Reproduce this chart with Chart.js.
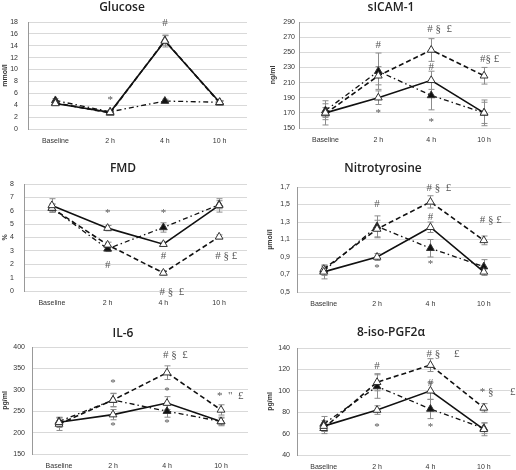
<!DOCTYPE html>
<html>
<head>
<meta charset="utf-8">
<script src="https://cdn.jsdelivr.net/npm/chart.js@4/dist/chart.umd.min.js"></script>
<style>
html, body { margin: 0; padding: 0; background: #fff; }
#wrap { position: relative; width: 516px; height: 470px; overflow: hidden; }
.panel { position: absolute; }
</style>
</head>
<body>
<div id="wrap"></div>
<script>
const categories = ['Baseline', '2 h', '4 h', '10 h'];

// Glucose (mmol/l)
const glucoseSolid      = [4.3, 2.8, 14.8, 4.5];
const glucoseSolidErr   = [0.3, 0.2, 1.0, 0.3];
const glucoseDashed     = [4.4, 2.7, 14.9, 4.4];
const glucoseDashedErr  = [0.3, 0.2, 0.8, 0.3];
const glucoseDashDot    = [4.8, 2.9, 4.7, 4.5];
const glucoseDashDotErr = [0.3, 0.2, 0.3, 0.2];
const glucoseMarks = [[1, 4.9, '*'], [2, 17.8, '#']];

// sICAM-1 (ng/ml)
const icamSolid      = [170, 190, 213, 170];
const icamSolidErr   = [16, 9, 12, 17];
const icamDashed     = [169, 219, 253, 219];
const icamDashedErr  = [8, 12, 15, 11];
const icamDashDot    = [173, 225, 193, 170];
const icamDashDotErr = [9, 24, 19, 14];
const icamMarks = [[1, 259, '#'], [2, 281, '# §  £'], [3, 241, '#§ £'], [2, 231, '#'], [1, 170, '*'], [2, 158, '*']];

// FMD (%)
const fmdSolid      = [6.4, 4.7, 3.5, 6.4];
const fmdSolidErr   = [0.5, 0.2, 0.15, 0.5];
const fmdDashed     = [6.2, 3.45, 1.35, 4.05];
const fmdDashedErr  = [0.3, 0.2, 0.15, 0.15];
const fmdDashDot    = [6.2, 3.15, 4.75, 6.45];
const fmdDashDotErr = [0.3, 0.2, 0.35, 0.3];
const fmdMarks = [[1, 5.8, '*'], [2, 5.8, '*'], [1, 1.9, '#'], [2, 2.6, '#'], [3, 2.6, '# § £'], [2, -0.1, '# §  £']];

// Nitrotyrosine (µmol/l)
const nitroSolid      = [0.73, 0.9, 1.24, 0.73];
const nitroSolidErr   = [0.08, 0.04, 0.06, 0.04];
const nitroDashed     = [0.76, 1.22, 1.53, 1.09];
const nitroDashedErr  = [0.04, 0.1, 0.07, 0.05];
const nitroDashDot    = [0.74, 1.25, 1.0, 0.79];
const nitroDashDotErr = [0.05, 0.12, 0.1, 0.08];
const nitroMarks = [[1, 1.51, '#'], [2, 1.69, '# §  £'], [2, 1.36, '#'], [3, 1.32, '# § £'], [1, 0.77, '*'], [2, 0.82, '*']];

// IL-6 (pg/ml)
const il6Solid      = [224, 242, 269, 226];
const il6SolidErr   = [12, 12, 15, 10];
const il6Dashed     = [220, 276, 340, 253];
const il6DashedErr  = [15, 15, 16, 12];
const il6DashDot    = [226, 276, 250, 226];
const il6DashDotErr = [8, 16, 14, 8];
const il6Marks = [[1, 315, '*'], [1, 214, '*'], [2, 380, '# §  £'], [2, 297, '*'], [2, 222, '*'], [3, 285, '*  "  £']];

// 8-iso-PGF2α (pg/ml)
const isoSolid      = [67, 82, 100, 64];
const isoSolidErr   = [5, 4, 8, 6];
const isoDashed     = [65, 108, 124, 84];
const isoDashedErr  = [5, 8, 6, 4];
const isoDashDot    = [69, 104, 83, 65];
const isoDashDotErr = [7, 11, 9, 5];
const isoMarks = [[1, 123, '#'], [2, 134, '# §     £'], [2, 107, '#'], [3, 99, '* §      £'], [1, 66, '*'], [2, 66, '*']];

const panels = [
  { title: 'Glucose', unit: 'mmol/l', min: 0, max: 18, step: 2,
    series: [glucoseSolid, glucoseDashed, glucoseDashDot],
    errors: [glucoseSolidErr, glucoseDashedErr, glucoseDashDotErr], marks: glucoseMarks,
    box: [0, 0, 258, 150], area: [28, 22, 247, 129], titleAt: [122, 8], unitX: 5, tickPad: 10 },
  { title: 'sICAM-1', unit: 'ng/ml', min: 150, max: 290, step: 20,
    series: [icamSolid, icamDashed, icamDashDot],
    errors: [icamSolidErr, icamDashedErr, icamDashDotErr], marks: icamMarks,
    box: [258, 0, 258, 150], area: [299, 22, 515, 128], titleAt: [391, 8], unitX: 273, tickPad: 4 },
  { title: 'FMD', unit: '%', min: 0, max: 8, step: 1,
    series: [fmdSolid, fmdDashed, fmdDashDot],
    errors: [fmdSolidErr, fmdDashedErr, fmdDashDotErr], marks: fmdMarks,
    box: [0, 150, 258, 162], area: [24, 184, 247, 291], titleAt: [123, 169], unitX: 5, tickPad: 10 },
  { title: 'Nitrotyrosine', unit: 'µmol/l', min: 0.5, max: 1.7, step: 0.2, comma: true,
    series: [nitroSolid, nitroDashed, nitroDashDot],
    errors: [nitroSolidErr, nitroDashedErr, nitroDashDotErr], marks: nitroMarks,
    box: [258, 150, 258, 162], area: [297, 187, 515, 292], titleAt: [383, 169], unitX: 270, tickPad: 7 },
  { title: 'IL-6', unit: 'pg/ml', min: 150, max: 400, step: 50,
    series: [il6Solid, il6Dashed, il6DashDot],
    errors: [il6SolidErr, il6DashedErr, il6DashDotErr], marks: il6Marks,
    box: [0, 312, 258, 158], area: [32, 347, 248, 454], titleAt: [123, 334], unitX: 4, tickPad: 7 },
  { title: '8-iso-PGF2α', unit: 'pg/ml', min: 40, max: 140, step: 10,
    series: [isoSolid, isoDashed, isoDashDot],
    errors: [isoSolidErr, isoDashedErr, isoDashDotErr], marks: isoMarks,
    box: [258, 312, 258, 158], area: [297, 348, 515, 455], titleAt: [391, 333], unitX: 270, tickPad: 7 }
];

// solid / dashed with open triangles, dash-dot with filled triangles
const lineStyles = [
  { dash: [], fill: '#ffffff', width: 1.6 },
  { dash: [5, 3], fill: '#ffffff', width: 1.6 },
  { dash: [5, 3, 1.5, 3], fill: '#111111', width: 1.3 }
];

const wrap = document.getElementById('wrap');

function makePanel(p) {
  const [bx, by, bw, bh] = p.box;
  const [al, at, ar, ab] = p.area;

  const holder = document.createElement('div');
  holder.className = 'panel';
  holder.style.cssText = `left:${bx}px;top:${by}px;width:${bw}px;height:${bh}px`;
  const canvas = document.createElement('canvas');
  canvas.width = bw;
  canvas.height = bh;
  holder.appendChild(canvas);
  wrap.appendChild(holder);

  const padLeft = Math.max(0, p.unitX - bx - 5);
  const yWidth = al - bx - padLeft;
  const xHeight = by + bh - ab;

  const extras = {
    id: 'extras',
    beforeDatasetsDraw(chart) {
      const ctx = chart.ctx;
      const xs = chart.scales.x, ys = chart.scales.y;
      ctx.save();
      ctx.strokeStyle = '#8c8c8c';
      ctx.lineWidth = 1;
      p.series.forEach((vals, d) => {
        vals.forEach((v, i) => {
          const e = p.errors[d][i];
          const x = Math.round(xs.getPixelForValue(i)) + 0.5;
          const y1 = ys.getPixelForValue(v + e);
          const y2 = ys.getPixelForValue(v - e);
          ctx.beginPath();
          ctx.moveTo(x, y1); ctx.lineTo(x, y2);
          ctx.moveTo(x - 3, y1); ctx.lineTo(x + 3, y1);
          ctx.moveTo(x - 3, y2); ctx.lineTo(x + 3, y2);
          ctx.stroke();
        });
      });
      ctx.restore();
    },
    afterDraw(chart) {
      const ctx = chart.ctx;
      const xs = chart.scales.x, ys = chart.scales.y;
      ctx.save();
      // panel title
      ctx.fillStyle = '#222';
      ctx.font = '600 12px "Open Sans"';
      ctx.textAlign = 'center';
      ctx.textBaseline = 'middle';
      ctx.fillText(p.title, p.titleAt[0] - bx, p.titleAt[1] - by);
      // significance marks
      ctx.fillStyle = '#555';
      ctx.font = '11px "Liberation Serif"';
      p.marks.forEach(([i, v, txt]) => {
        const x = xs.getPixelForValue(i);
        const y = ys.getPixelForValue(v);
        if (txt.length > 1) {
          ctx.textAlign = 'left';
          ctx.fillText(txt, x - 4, y);
        } else {
          ctx.textAlign = 'center';
          ctx.fillText(txt, x, y);
        }
      });
      ctx.restore();
    }
  };

  new Chart(canvas, {
    type: 'line',
    data: {
      labels: categories,
      datasets: p.series.map((vals, d) => ({
        data: vals,
        borderColor: '#111',
        borderWidth: lineStyles[d].width,
        borderDash: lineStyles[d].dash,
        pointStyle: 'triangle',
        pointRadius: 4.5,
        pointBackgroundColor: lineStyles[d].fill,
        pointBorderColor: '#333',
        pointBorderWidth: 1,
        tension: 0,
        fill: false
      }))
    },
    options: {
      responsive: false,
      animation: false,
      devicePixelRatio: 1,
      layout: { padding: { top: at - by, left: padLeft, right: bx + bw - ar, bottom: 0 } },
      plugins: { legend: { display: false }, tooltip: { enabled: false } },
      scales: {
        x: {
          offset: true,
          grid: { display: false, drawTicks: false },
          border: { display: false },
          ticks: { font: { size: 7, family: 'Liberation Sans' }, color: '#333', padding: 8, maxRotation: 0, autoSkip: false },
          afterFit: s => { s.height = xHeight; }
        },
        y: {
          min: p.min,
          max: p.max,
          ticks: {
            stepSize: p.step,
            font: { size: 7, family: 'Liberation Sans' },
            color: '#333',
            padding: p.tickPad,
            callback: v => p.comma ? v.toFixed(1).replace('.', ',') : String(Math.round(v))
          },
          grid: { color: '#d9d9d9', drawTicks: false },
          border: { color: '#999' },
          title: { display: true, text: p.unit, font: { size: 7, weight: 'bold', family: 'Liberation Sans' }, color: '#333', padding: { top: 1, bottom: 0 } },
          afterFit: s => { s.width = yWidth; }
        }
      }
    },
    plugins: [extras]
  });
}

panels.forEach(makePanel);
</script>
</body>
</html>
